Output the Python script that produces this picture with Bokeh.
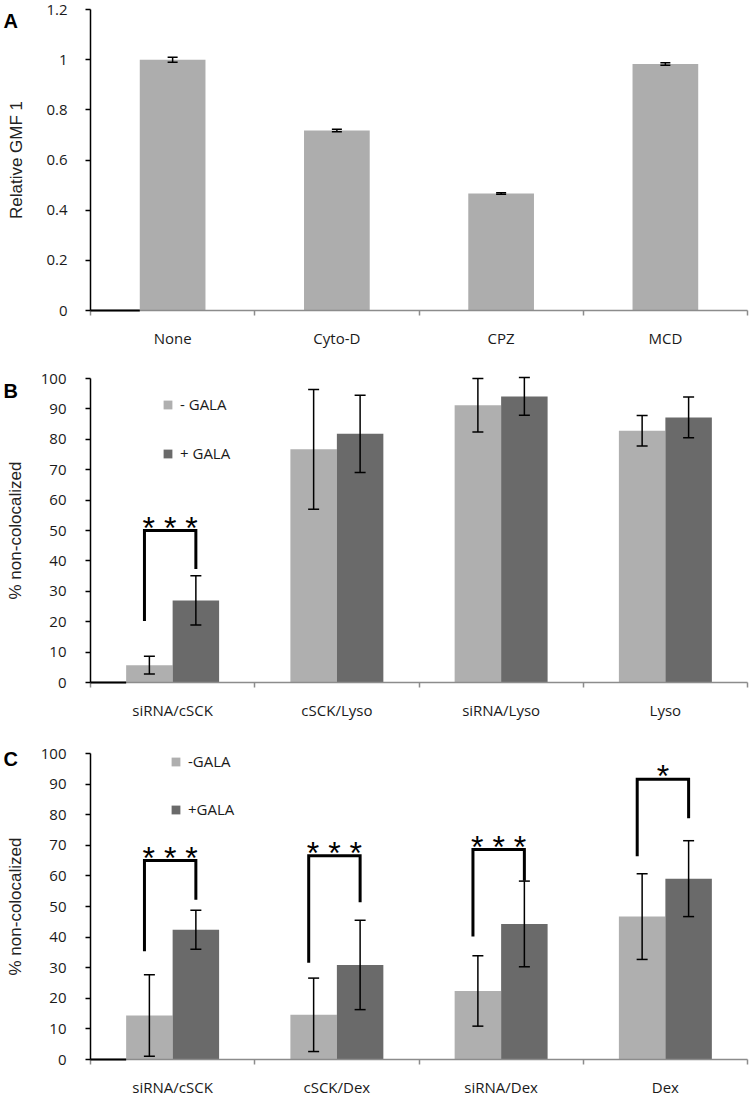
from bokeh.plotting import figure
from bokeh.models import (ColumnDataSource, FixedTicker, Whisker, TeeHead, Label,
                          Legend, LegendItem, Range1d)
from bokeh.layouts import column
from bokeh.embed import file_html
from bokeh.resources import INLINE
from bokeh.core.properties import value

# ---------------- data ----------------
# Panel A
a_categories = ["None", "Cyto-D", "CPZ", "MCD"]
a_values = [1.0, 0.718, 0.466, 0.983]
a_errors = [0.010, 0.005, 0.003, 0.005]
a_ticks = [0, 0.2, 0.4, 0.6, 0.8, 1.0, 1.2]

# Panel B
b_categories = ["siRNA/cSCK", "cSCK/Lyso", "siRNA/Lyso", "Lyso"]
b_series = ["- GALA", "+ GALA"]
b_minus = [5.7, 76.7, 91.2, 82.8]
b_minus_err = [2.9, 19.7, 8.8, 5.0]
b_plus = [27.0, 81.8, 94.1, 87.2]
b_plus_err = [8.1, 12.7, 6.2, 6.7]
b_sig_cat = ["siRNA/cSCK"]
b_sig_label = ["* * *"]
b_sig_low = [20.2]
b_sig_top = [50.0]
b_sig_high = [37.3]

# Panel C
c_categories = ["siRNA/cSCK", "cSCK/Dex", "siRNA/Dex", "Dex"]
c_series = ["-GALA", "+GALA"]
c_minus = [14.4, 14.6, 22.4, 46.7]
c_minus_err = [13.3, 12.0, 11.5, 14.0]
c_plus = [42.4, 30.9, 44.3, 59.1]
c_plus_err = [6.4, 14.6, 14.0, 12.4]
c_sig_cat = ["siRNA/cSCK", "cSCK/Dex", "siRNA/Dex", "Dex"]
c_sig_label = ["* * *", "* * *", "* * *", "*"]
c_sig_low = [35.4, 31.6, 40.2, 66.4]
c_sig_top = [65.0, 66.6, 68.6, 91.6]
c_sig_high = [52.2, 51.4, 58.4, 78.8]

pct_ticks = [0, 10, 20, 30, 40, 50, 60, 70, 80, 90, 100]

# ---------------- style ----------------
LIGHT = "#afafaf"
DARK = "#6a6a6a"
A_COLOR = "#adadad"
AXIS_GRAY = "#8c8c8c"
TXT = "#1a1a1a"
TICK_FONT = "Open Sans"
LABEL_FONT = "Liberation Sans"
W = 750
RIGHT_PAD = 3
AXIS_PX = 90          # pixel position of the value axis inside the canvas


def make_fig(height, cats, y_end, yticks, y_overrides, ylabel,
             top_px, zero_px, ylabel_standoff, tick_standoff):
    n = len(cats)
    unit = (W - RIGHT_PAD - AXIS_PX) / n
    upp = y_end / (zero_px - top_px)          # data units per pixel (vertical)
    p = figure(width=W, height=height,
               x_range=Range1d(-AXIS_PX / unit, n + RIGHT_PAD / unit),
               y_range=Range1d(-(height - zero_px) * upp, y_end + top_px * upp),
               output_backend="svg", toolbar_location=None,
               min_border_left=0, min_border_right=0,
               min_border_top=0, min_border_bottom=0)
    p.xgrid.visible = False
    p.ygrid.visible = False
    p.outline_line_color = None

    centers = [i + 0.5 for i in range(n)]
    bounds = list(range(n + 1))
    xa = p.xaxis[0]
    xa.fixed_location = 0
    xa.bounds = (0, n)
    xa.ticker = FixedTicker(ticks=centers, minor_ticks=bounds)
    xa.major_label_overrides = dict(zip(centers, cats))
    xa.major_tick_line_color = None
    xa.major_tick_out = 0
    xa.major_tick_in = 0
    xa.minor_tick_out = 5
    xa.minor_tick_in = 0
    xa.minor_tick_line_color = AXIS_GRAY
    xa.minor_tick_line_width = 1.5
    xa.axis_line_color = AXIS_GRAY
    xa.axis_line_width = 1.5
    xa.major_label_standoff = 12
    xa.major_label_text_font = TICK_FONT
    xa.major_label_text_font_size = "15px"
    xa.major_label_text_color = TXT

    ya = p.yaxis[0]
    ya.fixed_location = 0
    ya.bounds = (0, y_end)
    ya.ticker = FixedTicker(ticks=yticks)
    if y_overrides:
        ya.major_label_overrides = y_overrides
    ya.minor_tick_line_color = None
    ya.major_tick_out = 5
    ya.major_tick_in = 0
    ya.major_tick_line_color = "black"
    ya.major_tick_line_width = 1.5
    ya.axis_line_color = "black"
    ya.axis_line_width = 1.5
    ya.major_label_standoff = tick_standoff
    ya.major_label_text_font = TICK_FONT
    ya.major_label_text_font_size = "15px"
    ya.major_label_text_color = TXT
    ya.axis_label = ylabel
    ya.axis_label_text_font = LABEL_FONT
    ya.axis_label_text_font_size = "17px"
    ya.axis_label_text_font_style = "normal"
    ya.axis_label_text_color = "#222222"
    ya.axis_label_standoff = ylabel_standoff
    return p, centers


def panel_letter(p, letter, px_from_top):
    # place the panel letter a given number of pixels below the canvas top
    y = p.y_range.end - (p.y_range.end - p.y_range.start) * px_from_top / p.height
    x = p.x_range.start + (p.x_range.end - p.x_range.start) * 3 / p.width
    p.add_layout(Label(x=x, y=y, text=letter,
                       text_font=LABEL_FONT, text_font_size="20px",
                       text_font_style="bold", text_color="black",
                       text_align="left", text_baseline="alphabetic"))


def add_whiskers(p, xs, vals, errs, size):
    src = ColumnDataSource(dict(x=xs,
                                upper=[v + e for v, e in zip(vals, errs)],
                                lower=[v - e for v, e in zip(vals, errs)]))
    w = Whisker(source=src, base="x", upper="upper", lower="lower",
                line_color="black", line_width=1.5, level="annotation",
                upper_head=TeeHead(size=size, line_color="black", line_width=1.5),
                lower_head=TeeHead(size=size, line_color="black", line_width=1.5))
    p.add_layout(w)


# ---------------- Panel A ----------------
pA, cA = make_fig(362, a_categories, 1.2, a_ticks, {0: "0", 1.0: "1"},
                  "Relative GMF 1", 9, 310, 17, 18)
bwA = 0.40
pA.vbar(x=cA, top=a_values, width=bwA, fill_color=A_COLOR, line_color=None)
add_whiskers(pA, cA, a_values, a_errors, 10)
pA.segment(x0=[0], y0=[0], x1=[cA[0] - bwA / 2], y1=[0], line_color="black",
           line_width=2, level="overlay")
panel_letter(pA, "A", 20)


# ---------------- grouped panels ----------------
def grouped(height, cats, series, minus, minus_err, plus, plus_err,
            sig_cat, sig_label, sig_low, sig_top, sig_high,
            top_px, zero_px, letter, letter_px, legend_loc, legend_spacing):
    p, centers = make_fig(height, cats, 100, pct_ticks, None, "% non-colocalized",
                          top_px, zero_px, 13, 19)
    bw = 0.283
    xm = [c - bw / 2 for c in centers]
    xp = [c + bw / 2 for c in centers]
    r1 = p.vbar(x=xm, top=minus, width=bw, fill_color=LIGHT, line_color=None)
    r2 = p.vbar(x=xp, top=plus, width=bw, fill_color=DARK, line_color=None)
    add_whiskers(p, xm, minus, minus_err, 11)
    add_whiskers(p, xp, plus, plus_err, 11)
    p.segment(x0=[0], y0=[0], x1=[xm[0] - bw / 2], y1=[0], line_color="black",
              line_width=2, level="overlay")

    idx = [cats.index(c) for c in sig_cat]
    xl = [xm[i] - 0.03 for i in idx]
    xr = [xp[i] for i in idx]
    p.multi_line(xs=[[a, a, b, b] for a, b in zip(xl, xr)],
                 ys=[[lo, t, t, hi] for lo, t, hi in zip(sig_low, sig_top, sig_high)],
                 line_color="black", line_width=3, line_join="miter")
    p.text(x=[(a + b) / 2 for a, b in zip(xl, xr)], y=sig_top, text=sig_label,
           text_align="center", text_baseline="middle", y_offset=-3,
           text_font=value(LABEL_FONT), text_font_size="32px", text_color="black")

    leg = Legend(items=[LegendItem(label=series[0], renderers=[r1]),
                        LegendItem(label=series[1], renderers=[r2])],
                 location=legend_loc, orientation="vertical",
                 glyph_width=11, glyph_height=11, label_height=20,
                 label_standoff=7, spacing=legend_spacing, padding=0, margin=0,
                 border_line_color=None, background_fill_alpha=0,
                 label_text_font=TICK_FONT, label_text_font_size="15px",
                 label_text_color=TXT)
    p.add_layout(leg)
    panel_letter(p, letter, letter_px)
    return p


pB = grouped(373, b_categories, b_series, b_minus, b_minus_err, b_plus, b_plus_err,
             b_sig_cat, b_sig_label, b_sig_low, b_sig_top, b_sig_high,
             16, 320, "B", 28, (162, 272), 29)
pC = grouped(360, c_categories, c_series, c_minus, c_minus_err, c_plus, c_plus_err,
             c_sig_cat, c_sig_label, c_sig_low, c_sig_top, c_sig_high,
             18, 324, "C", 23, (170, 276), 28)

layout = column(pA, pB, pC, spacing=0)
open("out.html", "w").write(file_html(layout, INLINE))
